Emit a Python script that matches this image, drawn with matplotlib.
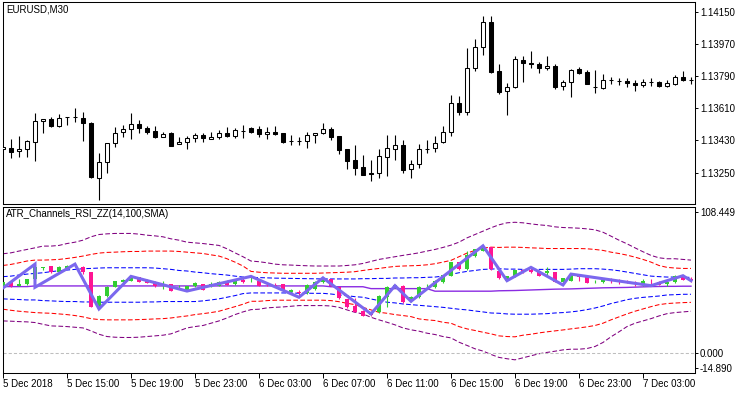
import matplotlib
matplotlib.use("Agg")
import matplotlib.pyplot as plt
import numpy as np

plt.rcParams['font.family'] = ['Liberation Sans', 'DejaVu Sans']

# ---------------- data ----------------
symbol_title = "EURUSD,M30"
indicator_title = "ATR_Channels_RSI_ZZ(14,100,SMA)"

time_labels = ["5 Dec 2018", "5 Dec 15:00", "5 Dec 19:00", "5 Dec 23:00", "6 Dec 03:00",
               "6 Dec 07:00", "6 Dec 11:00", "6 Dec 15:00", "6 Dec 19:00", "6 Dec 23:00",
               "7 Dec 03:00"]
time_label_bars = [0, 8, 16, 24, 32, 40, 48, 56, 64, 72, 80]

price_ticks = [1.14150, 1.13970, 1.13790, 1.13610, 1.13430, 1.13250]
price_range = [1.13075, 1.14204]

price_open = [1.13383, 1.13386, 1.13371, 1.13381, 1.13423, 1.13537, 1.13552, 1.13511, 1.13559, 1.13560,
              1.13554, 1.13526, 1.13219, 1.13312, 1.13414, 1.13476, 1.13493, 1.13521, 1.13500, 1.13481,
              1.13450, 1.13470, 1.13409, 1.13420, 1.13446, 1.13461, 1.13437, 1.13448, 1.13474, 1.13457,
              1.13484, 1.13498, 1.13494, 1.13465, 1.13478, 1.13470, 1.13426, 1.13425, 1.13426, 1.13459,
              1.13470, 1.13494, 1.13455, 1.13381, 1.13321, 1.13280, 1.13250, 1.13247, 1.13339, 1.13384,
              1.13405, 1.13269, 1.13297, 1.13382, 1.13386, 1.13420, 1.13479, 1.13638, 1.13591, 1.13834,
              1.13951, 1.14091, 1.13818, 1.13707, 1.13727, 1.13880, 1.13865, 1.13858, 1.13834, 1.13847,
              1.13735, 1.13755, 1.13828, 1.13815, 1.13731, 1.13722, 1.13766, 1.13764, 1.13764, 1.13753,
              1.13739, 1.13757, 1.13759, 1.13735, 1.13746, 1.13787, 1.13768]
price_high = [1.13396, 1.13437, 1.13455, 1.13430, 1.13585, 1.13552, 1.13563, 1.13578, 1.13561, 1.13613,
              1.13591, 1.13532, 1.13358, 1.13418, 1.13507, 1.13517, 1.13582, 1.13545, 1.13511, 1.13511,
              1.13476, 1.13476, 1.13451, 1.13457, 1.13474, 1.13470, 1.13476, 1.13489, 1.13507, 1.13498,
              1.13517, 1.13507, 1.13513, 1.13504, 1.13511, 1.13474, 1.13461, 1.13448, 1.13479, 1.13474,
              1.13530, 1.13504, 1.13456, 1.13382, 1.13405, 1.13349, 1.13321, 1.13381, 1.13461, 1.13461,
              1.13433, 1.13321, 1.13409, 1.13433, 1.13455, 1.13511, 1.13684, 1.13679, 1.13945, 1.13996,
              1.14126, 1.14126, 1.13858, 1.13750, 1.13902, 1.13902, 1.13930, 1.13871, 1.13902, 1.13856,
              1.13768, 1.13828, 1.13843, 1.13824, 1.13824, 1.13802, 1.13787, 1.13778, 1.13778, 1.13768,
              1.13772, 1.13778, 1.13760, 1.13768, 1.13796, 1.13820, 1.13787]
price_low = [1.13380, 1.13331, 1.13339, 1.13339, 1.13317, 1.13474, 1.13507, 1.13507, 1.13515, 1.13535,
             1.13429, 1.13219, 1.13097, 1.13247, 1.13395, 1.13448, 1.13437, 1.13470, 1.13468, 1.13446,
             1.13449, 1.13400, 1.13408, 1.13384, 1.13423, 1.13423, 1.13436, 1.13436, 1.13451, 1.13442,
             1.13442, 1.13470, 1.13451, 1.13437, 1.13462, 1.13418, 1.13405, 1.13405, 1.13386, 1.13418,
             1.13466, 1.13433, 1.13355, 1.13271, 1.13237, 1.13236, 1.13205, 1.13222, 1.13233, 1.13321,
             1.13250, 1.13222, 1.13278, 1.13359, 1.13367, 1.13418, 1.13455, 1.13573, 1.13573, 1.13819,
             1.13908, 1.13809, 1.13690, 1.13573, 1.13722, 1.13759, 1.13834, 1.13806, 1.13824, 1.13716,
             1.13712, 1.13675, 1.13802, 1.13743, 1.13697, 1.13716, 1.13744, 1.13740, 1.13727, 1.13708,
             1.13727, 1.13735, 1.13731, 1.13727, 1.13740, 1.13764, 1.13744]
price_close = [1.13394, 1.13367, 1.13383, 1.13427, 1.13539, 1.13550, 1.13511, 1.13554, 1.13560, 1.13559,
               1.13526, 1.13228, 1.13312, 1.13414, 1.13474, 1.13493, 1.13521, 1.13498, 1.13479, 1.13448,
               1.13465, 1.13401, 1.13423, 1.13446, 1.13461, 1.13442, 1.13451, 1.13470, 1.13455, 1.13489,
               1.13485, 1.13479, 1.13465, 1.13478, 1.13466, 1.13423, 1.13425, 1.13426, 1.13461, 1.13470,
               1.13493, 1.13451, 1.13377, 1.13315, 1.13278, 1.13237, 1.13241, 1.13343, 1.13386, 1.13403,
               1.13265, 1.13297, 1.13381, 1.13383, 1.13418, 1.13479, 1.13638, 1.13591, 1.13834, 1.13951,
               1.14091, 1.13815, 1.13703, 1.13727, 1.13884, 1.13862, 1.13858, 1.13834, 1.13847, 1.13731,
               1.13759, 1.13824, 1.13806, 1.13744, 1.13730, 1.13768, 1.13767, 1.13764, 1.13750, 1.13739,
               1.13759, 1.13758, 1.13735, 1.13750, 1.13787, 1.13768, 1.13767]

# indicator (RSI candles, zigzag, SMA, ATR channels)
ind_range = [-14.890, 108.449]
ind_tick_labels = ["108.449", "0.000", "-14.890"]

rsi_open = [50.0, 52.5, 50.0, 51.2, 54.9, 63.3, 64.3, 59.9, 63.1, 64.5, 63.6, 59.9, 34.4, 42.6, 49.3, 52.5,
            53.7, 56.2, 54.4, 53.0, 49.5, 51.2, 48.7, 47.0, 50.0, 51.2, 50.0, 50.0, 52.5, 51.2, 54.4,
            53.2, 53.2, 51.5, 50.8, 51.2, 45.0, 44.6, 44.3, 47.5, 52.5, 54.9, 48.8, 40.1, 35.2, 31.5,
            28.5, 30.2, 41.9, 48.8, 50.0, 38.4, 41.4, 49.5, 48.8, 52.5, 57.4, 67.3, 62.3, 71.7, 76.0, 78.4,
            61.1, 53.7, 56.9, 61.8, 61.3, 61.0, 59.4, 59.9, 52.5, 53.7, 58.6, 57.4, 52.4, 52.5, 54.5,
            53.8, 53.7, 52.4, 51.2, 53.2, 53.0, 51.2, 52.4, 56.9, 54.5]
rsi_close = [52.5, 49.5, 51.2, 54.9, 63.6, 64.1, 59.9, 63.6, 64.8, 65.5, 59.9, 34.4, 42.6, 49.3, 53.2, 54.4,
             56.9, 53.0, 52.0, 49.5, 50.5, 46.3, 49.3, 49.5, 52.0, 47.0, 51.2, 53.0, 50.5, 53.7, 52.5,
             53.7, 50.0, 51.0, 50.0, 46.3, 46.8, 44.4, 50.7, 52.5, 54.9, 50.0, 40.5, 34.0, 30.7, 27.8,
             28.0, 42.6, 48.8, 50.5, 37.7, 41.9, 49.3, 50.0, 53.7, 57.9, 67.3, 62.3, 73.0, 77.2, 79.6, 62.3,
             55.4, 56.9, 61.8, 59.9, 60.0, 57.4, 61.1, 52.9, 55.4, 57.9, 56.2, 52.0, 52.5, 54.9, 54.4,
             53.7, 52.0, 52.2, 53.7, 53.1, 50.5, 52.9, 57.4, 54.4, 54.4]
rsi_high = [52.8, 52.8, 55.0, 55.2, 66.0, 64.1, 64.8, 64.8, 65.3, 66.0, 64.3, 60.2, 43.0, 49.5, 53.5, 55.0,
            57.0, 56.5, 54.8, 53.2, 53.7, 51.5, 50.5, 50.0, 52.5, 51.5, 53.0, 53.5, 54.0, 54.0, 55.5,
            56.9, 53.5, 53.0, 52.0, 51.5, 47.5, 46.5, 51.0, 53.5, 55.8, 55.2, 49.0, 40.3, 40.6, 31.8,
            30.0, 43.0, 50.0, 50.5, 50.3, 42.0, 50.0, 51.2, 54.0, 58.2, 67.8, 67.8, 76.0, 77.5, 80.0, 79.0,
            61.5, 57.2, 62.0, 62.2, 63.6, 61.3, 63.6, 60.2, 55.8, 58.6, 58.8, 57.6, 54.4, 55.2, 55.4,
            54.9, 53.9, 53.7, 54.9, 54.9, 53.2, 53.7, 57.6, 57.9, 56.2]
rsi_low = [49.5, 49.0, 49.8, 50.8, 54.5, 61.6, 59.6, 59.6, 62.8, 63.5, 58.6, 34.0, 32.7, 41.8, 48.8, 52.0,
           53.2, 52.8, 51.8, 49.2, 47.5, 46.0, 47.5, 46.0, 49.0, 46.8, 48.8, 49.8, 50.2, 50.8, 52.2,
           52.5, 49.5, 50.0, 49.5, 46.0, 44.3, 42.0, 44.0, 47.0, 52.0, 49.5, 40.0, 33.5, 30.3, 27.5,
           27.5, 29.5, 34.0, 48.0, 37.2, 38.2, 41.0, 48.5, 48.5, 52.2, 57.0, 62.0, 62.0, 71.0, 75.5, 62.0,
           55.0, 53.7, 56.5, 59.5, 59.5, 56.9, 57.4, 52.5, 50.5, 53.2, 53.7, 51.8, 52.3, 52.2, 52.0,
           51.2, 51.7, 49.5, 49.5, 51.2, 50.2, 50.0, 52.0, 54.2, 52.5]

zigzag_bars = [0, 4, 4, 9, 12, 16, 23, 31, 37, 40, 46, 49, 51, 60, 63, 66, 70, 71, 81, 85, 86]
zigzag_vals = [48.3, 66.0, 48.8, 66.0, 32.7, 56.9, 46.0, 56.9, 41.4, 55.8, 29.0, 50.0, 38.4, 79.6,
               53.7, 63.6, 50.5, 58.6, 50.0, 57.4, 53.7]

sma_line = [49.3, 49.3, 49.3, 49.3, 49.8, 49.8, 49.8, 49.8, 49.8, 49.8, 49.8, 49.8, 49.8, 49.8, 49.8, 49.8,
            49.8, 49.8, 49.8, 49.8, 49.8, 49.8, 49.8, 49.8, 49.8, 49.8, 49.8, 49.8, 49.8, 49.8, 49.8,
            49.8, 49.8, 49.8, 49.8, 49.8, 49.8, 49.8, 49.8, 49.8, 49.8, 49.2, 49.2, 49.2, 49.2, 49.2,
            47.8, 47.8, 47.8, 47.8, 47.8, 47.8, 47.8, 47.8, 45.9, 45.9, 45.9, 45.9, 45.9, 45.9, 45.9, 45.9,
            46.2, 46.3, 46.4, 46.6, 46.8, 47.0, 47.2, 47.4, 47.5, 47.6, 47.8, 48.0, 48.2, 48.4, 48.5,
            48.6, 48.7, 48.9, 49.1, 49.3, 49.4, 49.5, 49.5, 49.6, 49.6]

upper1 = [56.7, 57.1, 57.9, 58.6, 59.1, 59.6, 60.4, 61.1, 61.6, 62.1, 62.6, 62.8, 63.1, 63.3, 63.3, 63.3,
          63.3, 63.3, 63.3, 63.1, 62.6, 62.1, 61.3, 60.9, 60.1, 59.6, 58.9, 58.4, 57.9, 57.1, 56.4,
          56.2, 56.0, 55.8, 55.6, 55.5, 55.4, 55.3, 55.2, 55.1, 55.0, 55.0, 55.0, 55.0, 55.0, 55.2,
          55.2, 55.4, 55.4, 55.7, 55.7, 55.9, 55.9, 56.2, 56.4, 57.1, 58.4, 59.6, 60.6, 61.3, 62.1, 62.3,
          62.6, 62.3, 62.3, 62.1, 62.1, 62.1, 62.1, 62.1, 62.1, 62.3, 62.6, 62.6, 62.6, 62.3, 61.8,
          61.1, 60.1, 59.1, 58.1, 57.1, 56.7, 56.4, 56.4, 56.2, 56.2]
lower1 = [40.2, 39.9, 39.7, 39.4, 39.4, 38.9, 38.7, 38.4, 38.2, 38.2, 37.9, 37.9, 37.7, 37.7, 37.7, 37.7,
          37.7, 37.7, 37.9, 37.9, 38.2, 38.2, 38.2, 38.2, 38.2, 38.7, 39.4, 40.2, 41.4, 42.6, 44.1,
          44.6, 44.6, 44.6, 44.6, 44.6, 44.5, 44.4, 44.4, 44.3, 44.3, 43.8, 43.1, 42.6, 41.8, 41.4,
          40.1, 38.9, 37.7, 37.2, 36.4, 35.9, 35.4, 34.9, 34.4, 33.9, 33.2, 32.5, 32.0, 31.2, 30.5, 29.7,
          29.5, 29.0, 28.8, 28.8, 28.8, 29.0, 29.2, 29.7, 30.0, 30.5, 31.2, 32.2, 33.4, 34.9, 36.7,
          38.1, 39.6, 40.6, 41.3, 41.8, 42.3, 43.1, 43.3, 43.6, 43.6]
upper2 = [65.0, 65.8, 67.0, 68.3, 69.0, 69.0, 69.2, 69.5, 70.2, 71.0, 72.0, 73.2, 74.2, 74.7, 74.9, 75.2,
          75.4, 75.4, 75.7, 75.7, 75.7, 75.7, 75.4, 74.9, 74.4, 73.9, 72.9, 72.0, 70.0, 67.5, 64.6,
          60.6, 60.0, 59.6, 59.4, 59.2, 59.2, 59.2, 59.2, 59.2, 59.4, 59.6, 59.8, 60.0, 60.4, 61.3,
          62.1, 62.8, 63.6, 64.3, 64.6, 64.8, 65.0, 65.5, 66.3, 67.5, 68.8, 71.5, 74.2, 76.2, 77.9, 78.6,
          78.4, 78.6, 78.6, 78.4, 78.1, 77.9, 77.6, 77.6, 77.6, 77.6, 77.6, 77.4, 76.9, 76.2, 74.9,
          73.9, 72.7, 71.2, 69.5, 67.5, 65.0, 63.6, 63.1, 62.8, 62.8]
lower2 = [32.5, 31.7, 31.0, 30.5, 30.0, 29.7, 29.5, 29.0, 28.5, 27.8, 26.8, 25.5, 24.8, 24.6, 24.6, 24.6,
          24.6, 24.8, 25.0, 25.3, 25.5, 26.0, 26.8, 27.5, 28.5, 29.2, 30.0, 31.0, 32.7, 34.4, 36.2,
          38.4, 38.4, 38.9, 39.2, 39.2, 39.2, 39.2, 39.2, 39.2, 39.2, 38.9, 38.1, 36.9, 35.9, 33.9,
          32.0, 30.2, 29.5, 28.5, 27.8, 27.0, 25.3, 24.6, 24.1, 22.8, 22.1, 19.6, 17.9, 16.7, 15.4, 14.2,
          12.7, 12.2, 12.0, 13.2, 13.9, 14.9, 15.7, 16.4, 17.1, 17.9, 18.6, 19.4, 20.4, 22.1, 24.6,
          26.8, 29.0, 31.0, 32.7, 34.4, 35.9, 36.7, 37.1, 37.4, 37.6]
upper3 = [73.7, 74.4, 75.7, 76.9, 78.1, 79.4, 79.4, 79.9, 81.3, 82.3, 83.8, 86.3, 88.0, 88.5, 88.8, 88.8,
          88.8, 88.3, 87.5, 87.0, 86.3, 84.8, 83.8, 82.3, 81.8, 81.3, 80.6, 79.9, 77.4, 74.4, 71.5,
          68.3, 67.8, 67.0, 66.0, 65.5, 65.3, 65.0, 64.8, 64.6, 64.6, 64.6, 64.6, 65.0, 65.5, 66.5,
          68.0, 69.5, 70.5, 71.5, 72.5, 73.4, 74.4, 75.7, 76.9, 78.4, 80.1, 82.3, 85.5, 88.0, 90.5, 93.0,
          95.2, 96.7, 97.1, 96.7, 95.9, 95.2, 94.7, 93.7, 93.2, 93.0, 92.7, 92.2, 91.5, 89.7, 86.8,
          83.8, 81.1, 78.1, 75.2, 72.5, 70.7, 70.0, 70.0, 69.5, 69.0]
lower3 = [23.8, 23.6, 23.3, 23.1, 22.6, 21.3, 20.1, 19.9, 19.6, 19.1, 18.6, 16.4, 13.9, 12.2, 11.7, 11.5,
          11.5, 11.7, 12.2, 12.7, 13.2, 14.2, 16.4, 18.6, 19.6, 20.4, 22.1, 23.8, 26.0, 28.5, 30.5,
          32.2, 32.5, 33.5, 33.9, 34.2, 34.7, 35.2, 35.2, 35.2, 35.2, 34.9, 33.9, 32.0, 30.2, 29.0,
          26.5, 24.6, 22.8, 20.9, 18.6, 17.2, 16.2, 14.7, 13.7, 12.2, 11.2, 8.0, 5.6, 3.1, 1.4, -1.1,
          -3.3, -4.3, -5.1, -3.6, -2.1, -0.6, 0.4, 1.3, 2.3, 2.8, 2.8, 3.3, 4.8, 7.8, 12.0,
          15.7, 19.6, 22.1, 23.8, 25.5, 27.5, 29.2, 30.0, 30.5, 31.0]

# ---------------- figure ----------------
W, H = 750, 394
fig = plt.figure(figsize=(W / 100, H / 100), dpi=100)
fig.patch.set_facecolor('white')


def rect(x0, y0, x1, y1):
    return [x0 / W, 1 - y1 / H, (x1 - x0) / W, (y1 - y0) / H]


ax1 = fig.add_axes(rect(2.5, 2, 694.5, 204))
ax2 = fig.add_axes(rect(2.5, 207, 694.5, 373))

n = len(price_open)
x = np.arange(n)
xlim = (-0.06, 86.44)
FS = 7

# ---- price candles ----
po, ph, pl, pc = map(np.array, (price_open, price_high, price_low, price_close))
up = pc > po
blo = np.minimum(po, pc)
bh = np.maximum(np.abs(pc - po), 0.000012)
ax1.vlines(x, pl, ph, color='black', lw=0.8, zorder=2)
ax1.bar(x, bh, bottom=blo, width=0.5, color=np.where(up, 'white', 'black'),
        edgecolor='black', linewidth=0.75, zorder=3)
ax1.set_xlim(*xlim)
ax1.set_ylim(*price_range)
ax1.yaxis.tick_right()
ax1.set_yticks(price_ticks)
ax1.set_yticklabels([f"{p:.5f}" for p in price_ticks])
ax1.tick_params(axis='y', direction='out', length=2.5, width=0.7, pad=1.5, labelsize=FS)
ax1.set_xticks([])
ax1.text(0.005, 0.988, symbol_title, transform=ax1.transAxes, ha='left', va='top', fontsize=FS)

# ---- indicator ----
dash = (0, (4.5, 2.2))
ax2.plot(x, upper3, color='#800080', lw=0.75, ls=dash, zorder=1)
ax2.plot(x, lower3, color='#800080', lw=0.75, ls=dash, zorder=1)
ax2.plot(x, upper2, color='#FF0000', lw=0.75, ls=dash, zorder=1)
ax2.plot(x, lower2, color='#FF0000', lw=0.75, ls=dash, zorder=1)
ax2.plot(x, upper1, color='#0000FF', lw=0.75, ls=dash, zorder=1)
ax2.plot(x, lower1, color='#0000FF', lw=0.75, ls=dash, zorder=1)
ax2.axhline(0, color='#BEBEBE', lw=0.75, ls=(0, (3, 2)), zorder=1)
ax2.plot(x, sma_line, color='#8A2BE2', lw=1.0, zorder=2)

ro, rh, rl, rc = map(np.array, (rsi_open, rsi_high, rsi_low, rsi_close))
rup = rc >= ro
rcol = np.where(rup, '#32CD32', '#FF1493')
ax2.vlines(x, rl, rh, colors=rcol, lw=0.8, zorder=3)
ax2.bar(x, np.maximum(np.abs(rc - ro), 0.6), bottom=np.minimum(ro, rc), width=0.62,
        color=rcol, linewidth=0, zorder=3)

ax2.plot(zigzag_bars, zigzag_vals, color='#7B68EE', lw=2.2, zorder=4, solid_joinstyle='miter')

ax2.set_xlim(*xlim)
ax2.set_ylim(*ind_range)
ax2.yaxis.tick_right()
ax2.set_yticks([104.4, 0.0, -11.3])
ax2.set_yticklabels(ind_tick_labels)
ax2.tick_params(axis='y', direction='out', length=2.5, width=0.7, pad=1.5, labelsize=FS)
ax2.set_xticks(time_label_bars)
ax2.set_xticklabels(time_labels, ha='left')
ax2.tick_params(axis='x', direction='out', length=3.5, width=0.7, pad=1, labelsize=FS)
ax2.text(0.005, 0.985, indicator_title, transform=ax2.transAxes, ha='left', va='top', fontsize=FS)

for ax in (ax1, ax2):
    for s in ax.spines.values():
        s.set_linewidth(0.75)
        s.set_color('black')
    ax.set_facecolor('white')

fig.savefig('out.png', dpi=100, facecolor='white')
